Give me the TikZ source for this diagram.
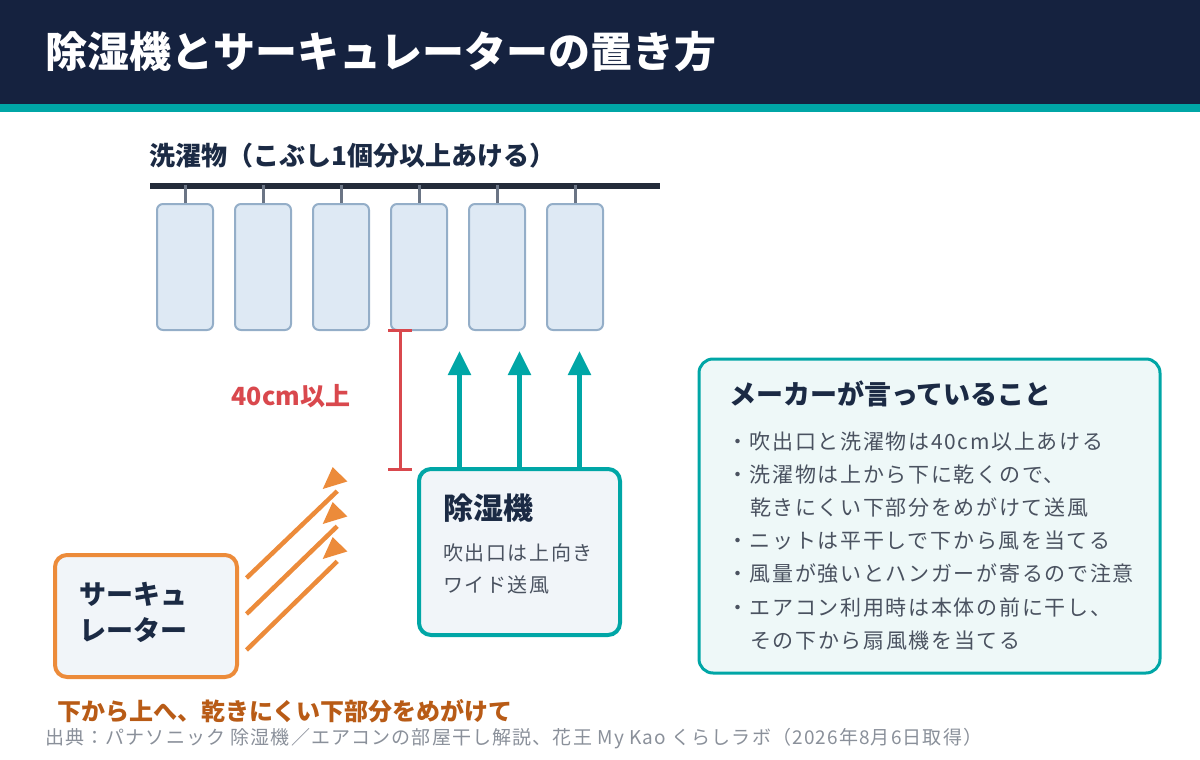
\documentclass[tikz,border=0pt]{standalone}
\usepackage{fontspec}
\setmainfont{Noto Sans CJK JP}
\newfontfamily\bodyf{Noto Sans CJK JP}[LetterSpace=8]
\newfontfamily\srcf{Noto Sans CJK JP}[LetterSpace=6]
\usetikzlibrary{arrows.meta,calc}
\definecolor{navy}{HTML}{15223F}
\definecolor{tealc}{HTML}{00A6A6}
\definecolor{darktxt}{HTML}{1B2A44}
\definecolor{rodc}{HTML}{232B3A}
\definecolor{hangc}{HTML}{6B7585}
\definecolor{clothf}{HTML}{DEE9F4}
\definecolor{clothb}{HTML}{94AEC8}
\definecolor{redc}{HTML}{D9484D}
\definecolor{orangec}{HTML}{EC8B3A}
\definecolor{orangetxt}{HTML}{B85B16}
\definecolor{boxf}{HTML}{F1F5F9}
\definecolor{notef}{HTML}{EEF8F8}
\definecolor{graytxt}{HTML}{4A5260}
\definecolor{srctxt}{HTML}{8A909A}
\begin{document}
\begin{tikzpicture}[x=1pt,y=-1pt,
  txt/.style={inner sep=0pt, anchor=west},
  cloth/.style={draw=clothb, fill=clothf, line width=2pt, rounded corners=6pt,
    minimum width=56pt, minimum height=126pt, inner sep=0pt},
  hanger/.style={draw=hangc, line width=3pt},
  panel/.style={rounded corners=12pt, inner sep=0pt},
  upflow/.style={draw=tealc, line width=5pt, -{Triangle[length=24pt,width=22pt]}},
  sideflow/.style={draw=orangec, line width=4.5pt},
  body/.style={txt, text=graytxt, font=\bodyf\fontsize{21}{25}\selectfont},
  dhbody/.style={txt, text=graytxt, font=\bodyf\fontsize{20}{24}\selectfont},
]
\useasboundingbox (0,0) rectangle (1200,760);
% header
\fill[navy] (0,0) rectangle (1200,104);
\fill[tealc] (0,104) rectangle (1200,112);
\node[txt, text=white, font=\fontsize{42}{50}\selectfont\bfseries] (title) at (45,52) {除湿機とサーキュレーターの置き方};

% laundry
\node[txt, text=darktxt, font=\fontsize{26}{30}\selectfont\bfseries] (lbl) at (149,156) {洗濯物（こぶし1個分以上あける）};
\coordinate (rodL) at (150,186);
\coordinate (rodR) at (660,186);
\draw[rodc, line width=6pt] (rodL) -- (rodR);
\foreach \i in {0,...,5} {
  \node[cloth] (c\i) at (185+78*\i,267) {};
  \draw[hanger] (c\i.north) -- ++(0,-18);
}

% 40cm dimension
\coordinate (d1) at (400,330);
\coordinate (d2) at (400,469);
\draw[redc, line width=3pt] (d1) -- (d2)
  ([xshift=-12pt]d1) -- ([xshift=12pt]d1)
  ([xshift=-12pt]d2) -- ([xshift=12pt]d2);
\node[text=redc, inner sep=0pt, font=\fontsize{25}{29}\selectfont\bfseries] (dim) at (291,396) {40cm以上};

% dehumidifier
\node[panel, draw=tealc, fill=boxf, line width=4pt, minimum width=201pt, minimum height=166pt] (dh) at (519.5,552) {};
\node[txt, text=darktxt, font=\fontsize{30}{34}\selectfont\bfseries] (dht) at (443,508) {除湿機};
\node[dhbody] (dh1) at (443,553) {吹出口は上向き};
\node[dhbody] (dh2) at (443,585) {ワイド送風};
\foreach \dx/\n in {-60/a,0/b,60/c} {
  \draw[upflow] ([xshift=\dx pt]dh.north) -- ++(0,-116);
}

% circulator
\node[panel, draw=orangec, fill=boxf, line width=4pt, minimum width=182pt, minimum height=122pt] (circ) at (146,616) {};
\node[txt, text=darktxt, font=\fontsize{27}{31}\selectfont\bfseries] (ci1) at (79,594) {サーキュ};
\node[txt, text=darktxt, font=\fontsize{27}{31}\selectfont\bfseries] (ci2) at (79,630) {レーター};
\foreach \k in {0,1,2} {
  \coordinate (s\k) at (246.5,578+36*\k);
  \coordinate (t\k) at (347.3,481.5+35*\k);
  \draw[sideflow] (s\k) -- ($(s\k)!0.9!(t\k)$);
  \fill[orangec] (t\k) -- ($(t\k)+(-14.6,-14.5)$) -- ($(t\k)+(-24.6,7.5)$) -- cycle;
}
\node[txt, text=orangetxt, font=\fontsize{24}{28}\selectfont\bfseries] (note) at (57,711) {下から上へ、乾きにくい下部分をめがけて};

% maker notes
\node[panel, rounded corners=14pt, draw=tealc, fill=notef, line width=3pt, minimum width=461pt, minimum height=314pt] (mk) at (929.5,516) {};
\node[txt, text=darktxt, font=\fontsize{27}{31}\selectfont\bfseries] (mkt) at (729,394) {メーカーが言っていること};
\node[body] (b1) at (727,441.7) {・吹出口と洗濯物は40cm以上あける};
\node[body] (b2) at (727,474.5) {・洗濯物は上から下に乾くので、};
\node[body] (b2b) at (750,507.5) {乾きにくい下部分をめがけて送風};
\node[body] (b3) at (727,540.8) {・ニットは平干しで下から風を当てる};
\node[body] (b4) at (727,574) {・風量が強いとハンガーが寄るので注意};
\node[body] (b5) at (727,607.5) {・エアコン利用時は本体の前に干し、};
\node[body] (b5b) at (750,640.8) {その下から扇風機を当てる};

% source
\node[txt, text=srctxt, font=\srcf\fontsize{19}{22}\selectfont] (src) at (45,739) {出典：パナソニック 除湿機／エアコンの部屋干し解説、花王 My Kao くらしラボ（2026年8月6日取得）};
\end{tikzpicture}
\end{document}
